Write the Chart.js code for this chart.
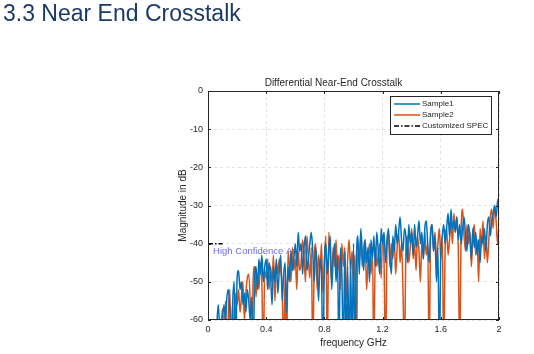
<!DOCTYPE html>
<html>
<head>
<meta charset="utf-8">
<script src="https://cdn.jsdelivr.net/npm/chart.js@4/dist/chart.umd.min.js"></script>
<style>
  body { margin: 0; background: #fff; }
  #wrap { position: relative; width: 534px; height: 354px; }
  #heading {
    position: absolute; left: 3px; top: 0px;
    font: 23px "Liberation Sans", Arial, sans-serif; color: #1b3a66;
  }
  #chart { position: absolute; left: 0; top: 0; }
</style>
</head>
<body>
<div id="wrap">
  <canvas id="chart" width="534" height="354"></canvas>
  <div id="heading">3.3 Near End Crosstalk</div>
</div>
<script>
/* DATA – magnitude in dB, one value every 0.01 GHz from 0 to 2 GHz (values below -60 fall off the axis) */
const freqStep = 0.01;

const sample1 = [
  -70,-70,-70,-70,-70,-70,-62,-56,-62,-70,
  -60,-56,-60,-54,-52,-58,-70,-55,-50,-70,
  -49,-47,-52,-50,-56,-53,-58,-52,-55,-60,
  -54,-70,-50,-46,-52,-44,-48,-43,-50,-46,
  -44,-52,-45,-48,-56,-46,-50,-44,-53,-47,
  -43,-55,-48,-45,-58,-46,-50,-42,-47,-44,
  -40,-46,-37,-42,-40,-48,-41,-38,-47,-44,
  -40,-37,-42,-50,-41,-46,-55,-44,-48,-70,
  -45,-40,-48,-42,-38,-52,-44,-40,-50,-43,
  -70,-41,-48,-70,-42,-70,-46,-70,-44,-70,
  -40,-70,-44,-38,-48,-36,-42,-47,-39,-45,
  -41,-50,-39,-44,-38,-46,-37,-42,-48,-36,
  -40,-37,-45,-39,-36,-43,-48,-38,-42,-35,
  -40,-37,-33,-39,-42,-36,-38,-45,-35,-40,
  -37,-43,-35,-41,-38,-34,-40,-37,-44,-36,
  -34,-40,-45,-37,-35,-42,-38,-50,-41,-70,
  -43,-38,-35,-40,-36,-32,-38,-31,-36,-34,
  -37,-33,-39,-35,-40,-36,-33,-38,-42,-35,
  -38,-44,-36,-41,-37,-43,-39,-45,-38,-40,
  -36,-42,-35,-33,-38,-34,-32,-30,-33,-29,
  -28
];

const sample2 = [
  -70,-70,-70,-70,-70,-70,-70,-70,-70,-62,
  -57,-70,-55,-70,-58,-52,-70,-55,-70,-53,
  -56,-52,-58,-54,-50,-60,-53,-49,-48,-55,
  -70,-50,-46,-54,-48,-52,-45,-50,-70,-47,
  -49,-44,-52,-46,-50,-43,-55,-45,-48,-44,
  -47,-52,-70,-48,-70,-42,-46,-50,-41,-47,
  -44,-52,-42,-47,-45,-39,-43,-50,-38,-44,
  -49,-41,-70,-45,-40,-52,-43,-47,-40,-53,
  -45,-38,-70,-37,-43,-50,-41,-46,-39,-48,
  -43,-52,-40,-46,-41,-55,-44,-39,-47,-42,
  -50,-43,-70,-40,-45,-38,-46,-41,-39,-52,
  -44,-40,-48,-42,-70,-41,-46,-43,-40,-49,
  -38,-45,-70,-42,-37,-46,-40,-44,-39,-48,
  -41,-37,-45,-40,-52,-70,-42,-38,-45,-41,
  -36,-44,-40,-47,-38,-42,-50,-39,-44,-37,
  -43,-40,-70,-38,-35,-42,-37,-45,-40,-36,
  -44,-38,-70,-41,-36,-43,-39,-34,-40,-32,
  -37,-33,-41,-70,-36,-31,-38,-42,-35,-40,
  -37,-46,-38,-35,-43,-39,-50,-36,-41,-34,
  -44,-38,-45,-39,-33,-31,-36,-30,-34,-40,
  -35
];

const specFreq = [0, 0.1];
const specLevel = [-40, -40];

const xTicks = [0, 0.4, 0.8, 1.2, 1.6, 2];
const yTicks = [0, -10, -20, -30, -40, -50, -60];

const FONT = '"Liberation Sans", Arial, sans-serif';
const INK = '#262626';

function toPoints(values) {
  return values.map((v, i) => ({ x: +(i * freqStep).toFixed(2), y: v }));
}

/* MATLAB-Rahmen, Innen-Ticks, Legende */
const matlabFrame = {
  id: 'matlabFrame',
  beforeDatasetsDraw(chart) {
    const { ctx, scales } = chart;
    ctx.save();
    ctx.font = '9.5px ' + FONT;
    ctx.fillStyle = '#6f6cf2';
    ctx.textBaseline = 'middle';
    ctx.fillText('High Confidence Area', scales.x.getPixelForValue(0.035), scales.y.getPixelForValue(-42.1));
    ctx.restore();
  },
  afterDatasetsDraw(chart) {
    const { ctx, chartArea: a, scales } = chart;
    ctx.save();
    ctx.strokeStyle = INK;
    ctx.lineWidth = 1;
    ctx.strokeRect(a.left + 0.5, a.top + 0.5, a.right - a.left - 1, a.bottom - a.top - 1);

    ctx.beginPath();
    xTicks.forEach(t => {
      const px = Math.round(scales.x.getPixelForValue(t)) + 0.5;
      ctx.moveTo(px, a.bottom); ctx.lineTo(px, a.bottom - 3);
      ctx.moveTo(px, a.top); ctx.lineTo(px, a.top + 3);
    });
    yTicks.forEach(t => {
      const py = Math.round(scales.y.getPixelForValue(t)) + 0.5;
      ctx.moveTo(a.left, py); ctx.lineTo(a.left + 3, py);
      ctx.moveTo(a.right, py); ctx.lineTo(a.right - 3, py);
    });
    ctx.stroke();

    // legend
    const box = { x: 390, y: 96, w: 102, h: 39 };
    ctx.fillStyle = '#fff';
    ctx.fillRect(box.x, box.y, box.w, box.h);
    ctx.strokeStyle = INK;
    ctx.strokeRect(box.x + 0.5, box.y + 0.5, box.w - 1, box.h - 1);
    ctx.font = '8px ' + FONT;
    ctx.textBaseline = 'middle';
    chart.data.datasets.forEach((ds, i) => {
      const y = box.y + 8 + i * 11;
      ctx.strokeStyle = ds.borderColor;
      ctx.lineWidth = ds.borderWidth;
      ctx.setLineDash(ds.borderDash || []);
      ctx.beginPath();
      ctx.moveTo(box.x + 4, y); ctx.lineTo(box.x + 30, y);
      ctx.stroke();
      ctx.setLineDash([]);
      ctx.fillStyle = INK;
      ctx.fillText(ds.label, box.x + 32, y);
    });
    ctx.restore();
  }
};

new Chart(document.getElementById('chart'), {
  type: 'line',
  data: {
    datasets: [
      { label: 'Sample1', data: toPoints(sample1), borderColor: '#0072BD', borderWidth: 1.5 },
      { label: 'Sample2', data: toPoints(sample2), borderColor: '#D95319', borderWidth: 1.5 },
      {
        label: 'Customized SPEC',
        data: specFreq.map((f, i) => ({ x: f, y: specLevel[i] })),
        borderColor: '#000', borderWidth: 1.5, borderDash: [5, 2, 1.5, 2]
      }
    ]
  },
  options: {
    responsive: false,
    animation: false,
    layout: { padding: { left: 168, right: 35, top: 77, bottom: 4 } },
    elements: { point: { radius: 0 }, line: { tension: 0.4, cubicInterpolationMode: 'monotone' } },
    datasets: { line: { clip: 0 } },
    plugins: {
      legend: { display: false },
      tooltip: { enabled: false },
      title: {
        display: true,
        text: 'Differential Near-End Crosstalk',
        color: INK,
        font: { family: FONT, size: 10, weight: 'normal' },
        padding: { top: 0, bottom: 2 }
      }
    },
    scales: {
      x: {
        type: 'linear', min: 0, max: 2,
        afterFit: s => { s.height = 30; },
        afterBuildTicks: s => { s.ticks = xTicks.map(v => ({ value: v })); },
        ticks: { color: INK, padding: 4, maxRotation: 0, font: { family: FONT, size: 9 }, callback: v => String(+v.toFixed(1)) },
        grid: { color: '#e3e3e3', drawTicks: false },
        border: { display: false, dash: [3, 3] },
        title: { display: true, text: 'frequency GHz', color: INK, font: { family: FONT, size: 10 }, padding: { top: 0, bottom: 1 } }
      },
      y: {
        min: -60, max: 0,
        afterFit: s => { s.width = 40; },
        afterBuildTicks: s => { s.ticks = yTicks.slice().reverse().map(v => ({ value: v })); },
        ticks: { color: INK, padding: 5, font: { family: FONT, size: 9 } },
        grid: { color: '#e3e3e3', drawTicks: false },
        border: { display: false, dash: [3, 3] },
        title: { display: true, text: 'Magnitude in dB', color: INK, font: { family: FONT, size: 10 }, padding: { top: 9, bottom: 0 } }
      }
    }
  },
  plugins: [matlabFrame]
});
</script>
</body>
</html>
